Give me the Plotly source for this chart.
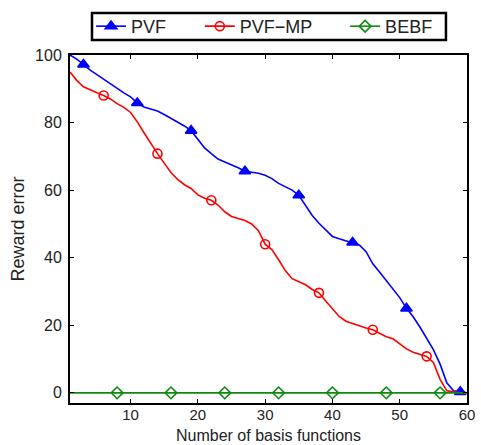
import plotly.graph_objects as go

x = list(range(1, 61))

pvf = [100, 98.8, 97.2, 95.5, 94.2, 92.8, 91.5, 90.2, 88.8, 87.6,
       85.8, 84.6, 84.0, 83.4, 82.4, 81.3, 80.0, 79.0, 77.6, 75.0,
       72.5, 70.8, 69.2, 68.3, 67.5, 66.6, 65.6, 65.4, 65.0, 64.4,
       63.4, 62.0, 61.0, 60.0, 58.5, 55.5, 52.5, 50.2, 48.2, 46.3,
       45.6, 45.0, 44.5, 43.8, 41.8, 38.2, 35.8, 33.2, 30.8, 28.2,
       25.0, 22.5, 19.5, 16.3, 12.8, 8.5, 3.0, 0.6, 0.3, 0.0]

pvf_mp = [95.0, 92.5, 90.6, 89.6, 88.8, 88.0, 87.0, 85.6, 84.5, 83.0,
          80.2, 77.0, 73.8, 70.8, 68.0, 65.2, 63.2, 61.6, 60.5, 58.6,
          57.6, 57.0, 55.6, 53.6, 52.2, 51.6, 51.0, 50.0, 48.0, 44.0,
          42.4, 39.4, 36.2, 33.8, 33.0, 32.0, 30.6, 29.6, 27.2, 24.8,
          22.6, 21.2, 20.5, 19.8, 19.2, 18.7, 17.6, 16.6, 16.0, 14.6,
          13.0, 12.0, 11.5, 10.8, 9.0, 4.0, 0.6, 0.3, 0.0, 0.0]

bebf = [0.0] * 60

pvf_marker_x = [3, 11, 19, 27, 35, 43, 51, 59]
mp_marker_x = [6, 14, 22, 30, 38, 46, 54]
bebf_marker_x = [8, 16, 24, 32, 40, 48, 56]

x_ticks = [10, 20, 30, 40, 50, 60]
y_ticks = [0, 20, 40, 60, 80, 100]

x_title = "Number of basis functions"
y_title = "Reward error"

BLUE = "#0000ff"
RED = "#ff0000"
GREEN = "#108a10"
FONT = "Liberation Sans, Arial, sans-serif"
TXT = "#222"

fig = go.Figure()

def add_series(name, ys, color, symbol, mx, msize, filled, legend):
    mk = dict(symbol=symbol, size=msize,
              color=color if filled else "rgba(0,0,0,0)",
              line=dict(color=color, width=1.6))
    fig.add_trace(go.Scatter(x=x, y=ys, mode="lines", line=dict(color=color, width=1.6),
                             showlegend=False, hoverinfo="skip"))
    my = [ys[i - 1] for i in mx]
    fig.add_trace(go.Scatter(x=mx, y=my, mode="markers", marker=mk,
                             showlegend=False, hoverinfo="skip"))
    fig.add_trace(go.Scatter(x=[None], y=[None], mode="lines+markers", name=name,
                             line=dict(color=color, width=1.6), marker=mk,
                             legend=legend))

add_series("PVF", pvf, BLUE, "triangle-up", pvf_marker_x, 10, True, "legend")
add_series("PVF\u2212MP", pvf_mp, RED, "circle", mp_marker_x, 9, False, "legend2")
add_series("BEBF", bebf, GREEN, "diamond", bebf_marker_x, 9, False, "legend3")

axis_common = dict(showline=True, linecolor="black", linewidth=2, mirror="ticks",
                   ticks="inside", ticklen=4, tickcolor="black", tickwidth=1,
                   showgrid=False, zeroline=False, automargin=False)

fig.update_xaxes(range=[1, 60], tickvals=x_ticks, ticklabelstandoff=-3, **axis_common,
                 tickfont=dict(family=FONT, size=15, color=TXT))
fig.update_yaxes(range=[-3, 100], tickvals=y_ticks, ticklabelstandoff=3, **axis_common,
                 tickfont=dict(family=FONT, size=16, color=TXT),
                 title=dict(text=y_title,
                            font=dict(family=FONT, size=18, color=TXT), standoff=6))

leg_common = dict(orientation="h", yanchor="middle", y=1.082, xanchor="left",
                  bgcolor="rgba(0,0,0,0)", borderwidth=0,
                  font=dict(family=FONT, size=18, color=TXT), itemwidth=30)

fig.update_layout(
    width=481, height=445,
    margin=dict(l=70, r=14, t=55, b=42, autoexpand=False),
    plot_bgcolor="white", paper_bgcolor="white",
    font=dict(family=FONT, color=TXT),
    legend=dict(x=0.053, **leg_common),
    legend2=dict(x=0.327, **leg_common),
    legend3=dict(x=0.693, **leg_common),
    shapes=[dict(type="rect", xref="paper", yref="paper",
                 x0=0.0554, x1=0.947, y0=1.043, y1=1.1206,
                 line=dict(color="black", width=2.5), fillcolor="rgba(0,0,0,0)",
                 layer="above")],
    annotations=[dict(text=x_title, xref="paper", yref="paper", x=0.5, y=-0.094,
                      xanchor="center", yanchor="middle", showarrow=False,
                      font=dict(family=FONT, size=16, color=TXT))],
)

fig.write_html("out.html")
